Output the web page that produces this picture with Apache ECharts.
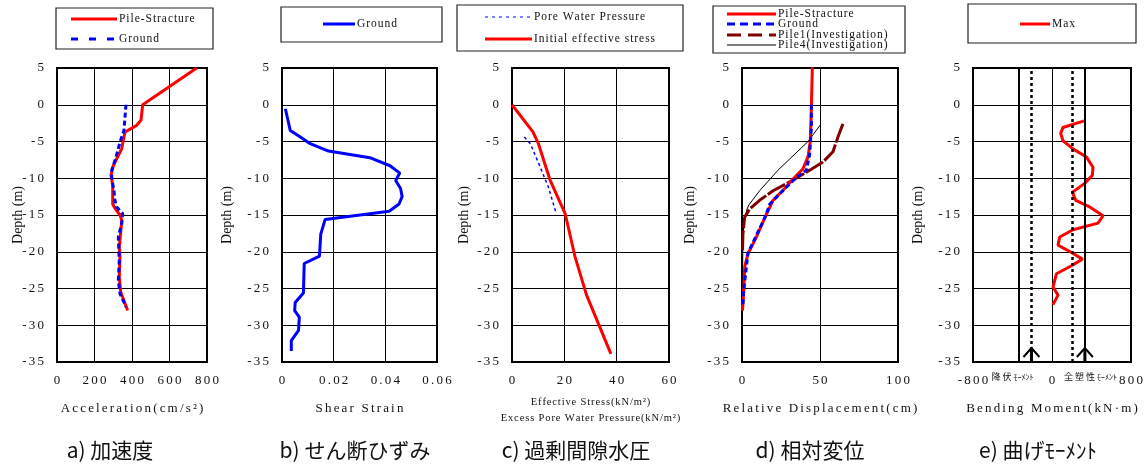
<!DOCTYPE html>
<html>
<head>
<meta charset="utf-8">
<script src="https://cdn.jsdelivr.net/npm/echarts@6/dist/echarts.min.js"></script>
<style>
  html, body { margin: 0; padding: 0; background: #fff; }
  #chart { width: 1146px; height: 466px; }
</style>
</head>
<body>
<div id="chart"></div>
<script>
// ---- depth axis shared by all five panels (m) ----
const depthTicks = [-35, -30, -25, -20, -15, -10, -5, 0, 5];

// ---- a) acceleration (cm/s^2) ----
const accTicks = [0, 200, 400, 600, 800];
const accPileDepth = [5, 0, -2.1, -2.8, -3.7, -5.3, -6.0, -8.3, -9.6, -11, -13.5, -14.1, -15, -15.7, -17.3, -19.4, -20.7, -23.5, -25.5, -28];
const accPile = [745, 457, 448, 425, 363, 350, 345, 300, 288, 297, 297, 309, 336, 345, 340, 332, 336, 332, 340, 377];
const accGroundDepth = [0, -3.5, -5.1, -7.1, -8.9, -10, -11.7, -13, -13.9, -14.8, -16.2, -18, -21.2, -23.9, -25.7, -27.5];
const accGround = [368, 357, 336, 315, 292, 292, 304, 309, 318, 350, 345, 327, 332, 327, 336, 368];

// ---- b) shear strain ----
const strainTicks = [0, 0.02, 0.04, 0.06];
const strainDepth = [-0.55, -3.5, -4.4, -5.3, -6.3, -7.2, -8.3, -9.3, -10.3, -11.4, -12.5, -13.5, -14.5, -15.6, -17.6, -20.6, -21.6, -25.6, -26.9, -28, -28.9, -30.7, -32.1, -33.5];
const strain = [0.0013, 0.0032, 0.0071, 0.0109, 0.018, 0.034, 0.0418, 0.0456, 0.044, 0.0459, 0.0465, 0.0453, 0.0415, 0.0167, 0.015, 0.0145, 0.0086, 0.0083, 0.0051, 0.0049, 0.0067, 0.0064, 0.0036, 0.0036];

// ---- c) effective stress / excess pore water pressure (kN/m^2) ----
const stressTicks = [0, 20, 40, 60];
const stressDepth = [0, -3.7, -5.3, -10.3, -14.8, -20.7, -25.9, -33.9];
const stress = [0, 8, 10.1, 14.6, 20.3, 24.1, 28.5, 37.8];
const poreDepth = [-4.4, -5.3, -8.5, -11.2, -14.8];
const pore = [4.7, 7, 10.8, 13.9, 16.9];

// ---- d) relative displacement (cm) ----
const dispTicks = [0, 50, 100];
const dispPileDepth = [5.1, 0, -4.9, -7.1, -8.7, -10.1, -11.4, -13, -15.1, -18, -20.3, -22.1, -25.3, -28];
const dispPile = [45.1, 44.5, 43.8, 42.3, 39.1, 32.7, 27.4, 19.9, 15.2, 9.2, 3.8, 1.7, 1.1, 0.3];
const dispGroundDepth = [0, -3, -6.7, -8.9, -9.9, -11.2, -13.5, -15.1, -20.2, -25.3, -27.3];
const dispGround = [44.5, 44.5, 43.4, 41.3, 34.9, 28.5, 17.8, 15.2, 3.8, 1.1, 0.6];
const pile1Depth = [-2.6, -4.4, -6.4, -7.8, -8.9, -10.5, -11.7, -13, -14.2, -15.3, -17.6, -20];
const pile1Disp = [64.7, 61.5, 58.3, 51.9, 43.4, 30.6, 19.9, 11.3, 4.9, 1.7, 0.6, 0.3];
const pile4Depth = [-2.7, -5.0, -8.9, -11.7, -13.6, -14.2, -15.7, -17.6, -25];
const pile4Disp = [50.4, 42.3, 23.1, 11.3, 4.5, 3.2, 1.7, 0.6, 0.3];

// ---- e) bending moment (kN*m) ----
const momentTicks = [-800, 0, 800];
const momentDepth = [-2.2, -3.1, -3.9, -4.9, -6.0, -7.1, -8.5, -9.6, -10.7, -11.9, -13, -13.9, -15.1, -16.1, -17, -18, -19.1, -20.1, -21, -21.9, -23, -24.8, -25.9, -27.2];
const moment = [324, 111, 88, 111, 213, 348, 415, 409, 331, 207, 240, 382, 517, 466, 213, 78, 61, 197, 308, 197, 45, 10, 61, 10];
const yieldMoment = 208;
const plasticMoment = 333;

// ---- text ----
const captions = ['a) 加速度', 'b) せん断ひずみ', 'c) 過剰間隙水圧', 'd) 相対変位', 'e) 曲げﾓｰﾒﾝﾄ'];
const xNames = ['Acceleration(cm/s²)', 'Shear Strain', 'Effective Stress(kN/m²)\nExcess Pore Water Pressure(kN/m²)', 'Relative Displacement(cm)', 'Bending Moment(kN·m)'];

const SERIF = "'Liberation Serif', 'Times New Roman', serif";
const CJK = "'Noto Sans CJK JP', sans-serif";
const RED = '#ff0000', BLUE = '#0000ff', MAROON = '#800000';

// letter-spaced text: thin hair spaces between glyphs
function sp(s, n) {
  const gap = '\u200a'.repeat(n || 1);
  return String(s).split('\n').map(line => line.split('').join(gap)).join('\n');
}
const pairs = (xs, ds) => xs.map((v, i) => [v, ds[i]]);

// plot frames (left, width) for the five panels
const frames = [
  { left: 57, width: 150, caption: 110, depthGap: 32 },
  { left: 282, width: 155, caption: 355, depthGap: 48 },
  { left: 512, width: 157, caption: 576, depthGap: 41 },
  { left: 742, width: 156, caption: 810, depthGap: 45 },
  { left: 973, width: 158, caption: 1038, depthGap: 48 }
];
const xTickSets = [accTicks, strainTicks, stressTicks, dispTicks, momentTicks];

const grids = frames.map(f => ({
  left: f.left, width: f.width, top: 68, height: 294,
  show: true, borderColor: '#000', borderWidth: 2, backgroundColor: 'transparent'
}));

const xAxes = frames.map((f, i) => {
  const t = xTickSets[i];
  const two = i === 2;
  return {
    type: 'value', gridIndex: i,
    min: t[0], max: t[t.length - 1], interval: t[1] - t[0],
    axisLine: { show: false }, axisTick: { show: false },
    splitLine: { show: true, lineStyle: { color: '#000', width: 1 } },
    axisLabel: {
      margin: 12, color: '#111', fontFamily: SERIF, fontSize: 13,
      formatter: v => sp(v, 2)
    },
    name: sp(xNames[i], two ? 1 : 2),
    nameLocation: 'middle',
    nameGap: two ? 32 : 39,
    nameMoveOverlap: false,
    nameTextStyle: {
      color: '#111', fontFamily: SERIF, fontSize: two ? 10.5 : 13,
      lineHeight: 16
    }
  };
});

const yAxes = frames.map((f, i) => ({
  type: 'value', gridIndex: i,
  min: depthTicks[0], max: depthTicks[depthTicks.length - 1],
  interval: depthTicks[1] - depthTicks[0],
  axisLine: { show: false }, axisTick: { show: false },
  splitLine: { show: true, lineStyle: { color: '#000', width: 1 } },
  axisLabel: {
    margin: 13, color: '#111', fontFamily: SERIF, fontSize: 13,
    formatter: v => sp(v, 2)
  },
  name: 'Depth (m)',
  nameLocation: 'middle',
  nameRotate: 90,
  nameGap: f.depthGap,
  nameMoveOverlap: false,
  nameTextStyle: { color: '#111', fontFamily: SERIF, fontSize: 14 }
}));

function line(idx, name, xs, ds, style, extra) {
  return Object.assign({
    type: 'line', name: name, xAxisIndex: idx, yAxisIndex: idx,
    symbol: 'none', silent: true, animation: false,
    data: pairs(xs, ds),
    lineStyle: style
  }, extra || {});
}

const series = [
  line(0, 'Pile-Stracture', accPile, accPileDepth, { color: RED, width: 3 }),
  line(0, 'Ground', accGround, accGroundDepth, { color: BLUE, width: 3, type: [5, 3] }),

  line(1, 'Ground', strain, strainDepth, { color: BLUE, width: 3 }),

  line(2, 'Initial effective stress', stress, stressDepth, { color: RED, width: 3 }),
  line(2, 'Pore Water Pressure', pore, poreDepth, { color: BLUE, width: 1.5, type: [3, 3] }),

  line(3, 'Pile4(Investigation)', pile4Disp, pile4Depth, { color: '#000', width: 1 }),
  line(3, 'Pile1(Investigation)', pile1Disp, pile1Depth, { color: MAROON, width: 3, type: [20, 2] }),
  line(3, 'Pile-Stracture', dispPile, dispPileDepth, { color: RED, width: 3 }),
  line(3, 'Ground', dispGround, dispGroundDepth, { color: BLUE, width: 3, type: [5, 3] }),

  line(4, 'Max', moment, momentDepth, { color: RED, width: 3 }, {
    z: 3,
    markLine: {
      silent: true, symbol: 'none', animation: false,
      label: { show: false },
      data: [
        { xAxis: -plasticMoment, lineStyle: { color: '#000', width: 2, type: 'solid' } },
        { xAxis: plasticMoment, lineStyle: { color: '#000', width: 2, type: 'solid' } },
        { xAxis: -yieldMoment, lineStyle: { color: '#000', width: 2.5, type: [3, 3] } },
        { xAxis: yieldMoment, lineStyle: { color: '#000', width: 2.5, type: [3, 3] } }
      ]
    }
  }),

  // arrows pointing up at the yield and full-plastic moments
  {
    type: 'custom', xAxisIndex: 4, yAxisIndex: 4, silent: true, animation: false, z: 4,
    data: [[-yieldMoment, 0], [plasticMoment, 1]],
    clip: false,
    renderItem: function (params, api) {
      const p = api.coord([api.value(0), depthTicks[0]]);
      const left = api.value(1) === 0;
      const label = left ? '{k|降 伏 }{m|ﾓｰﾒﾝﾄ}' : '{k|全 塑 性 }{m|ﾓｰﾒﾝﾄ}';
      return {
        type: 'group',
        children: [
          { type: 'line', shape: { x1: p[0], y1: p[1], x2: p[0], y2: p[1] - 13 },
            style: { stroke: '#000', lineWidth: 3 } },
          { type: 'polyline', shape: { points: [[p[0] - 8, p[1] - 5], [p[0], p[1] - 14], [p[0] + 8, p[1] - 5]] },
            style: { stroke: '#000', lineWidth: 2, fill: null } },
          { type: 'text', x: left ? p[0] + 2 : p[0] - 21, y: p[1] + 15,
            style: {
              text: label, align: left ? 'right' : 'left', verticalAlign: 'middle',
              rich: {
                k: { fontFamily: CJK, fontSize: 9, fill: '#111' },
                m: { fontFamily: CJK, fontSize: 8, fill: '#111' }
              }
            } }
        ]
      };
    }
  }
];

// ---- boxed legends and panel captions ----
function legendBox(box, items) {
  const els = [{
    type: 'rect', shape: { x: box[0], y: box[1], width: box[2], height: box[3] },
    style: { fill: '#fff', stroke: '#222', lineWidth: 1.2 }
  }];
  items.forEach(it => {
    els.push({
      type: 'line', shape: { x1: it.x1, y1: it.y, x2: it.x2, y2: it.y },
      style: Object.assign({ lineWidth: 3 }, it.style)
    });
    els.push({
      type: 'text', x: it.x2 + 2, y: it.y,
      style: { text: sp(it.text), fill: '#111', font: '11.5px ' + SERIF, verticalAlign: 'middle' }
    });
  });
  return els;
}

const graphics = [].concat(
  legendBox([56, 8, 157, 41], [
    { y: 19, x1: 71, x2: 117, text: 'Pile-Stracture', style: { stroke: RED } },
    { y: 39, x1: 71, x2: 117, text: 'Ground', style: { stroke: BLUE, lineDash: [7, 11] } }
  ]),
  legendBox([281, 7, 161, 35], [
    { y: 24, x1: 323, x2: 355, text: 'Ground', style: { stroke: BLUE } }
  ]),
  legendBox([457, 5, 226, 46], [
    { y: 17, x1: 485, x2: 532, text: 'Pore Water Pressure', style: { stroke: BLUE, lineWidth: 1.2, lineDash: [3, 4] } },
    { y: 39, x1: 485, x2: 532, text: 'Initial effective stress', style: { stroke: RED } }
  ]),
  legendBox([713, 6, 192, 47], [
    { y: 14, x1: 727, x2: 776, text: 'Pile-Stracture', style: { stroke: RED } },
    { y: 24, x1: 727, x2: 776, text: 'Ground', style: { stroke: BLUE, lineDash: [8, 5] } },
    { y: 35, x1: 727, x2: 776, text: 'Pile1(Investigation)', style: { stroke: MAROON, lineDash: [14, 7] } },
    { y: 45, x1: 727, x2: 776, text: 'Pile4(Investigation)', style: { stroke: '#000', lineWidth: 1 } }
  ]),
  legendBox([968, 4, 168, 39], [
    { y: 24, x1: 1020, x2: 1050, text: 'Max', style: { stroke: RED } }
  ]),
  frames.map((f, i) => ({
    type: 'text', x: f.caption, y: 450,
    style: { text: captions[i], fill: '#111', font: '21px ' + CJK, align: 'center', verticalAlign: 'middle' }
  }))
);

const chart = echarts.init(document.getElementById('chart'), null, { renderer: 'canvas' });
chart.setOption({
  animation: false,
  backgroundColor: '#fff',
  grid: grids,
  xAxis: xAxes,
  yAxis: yAxes,
  series: series,
  graphic: graphics
});
</script>
</body>
</html>
